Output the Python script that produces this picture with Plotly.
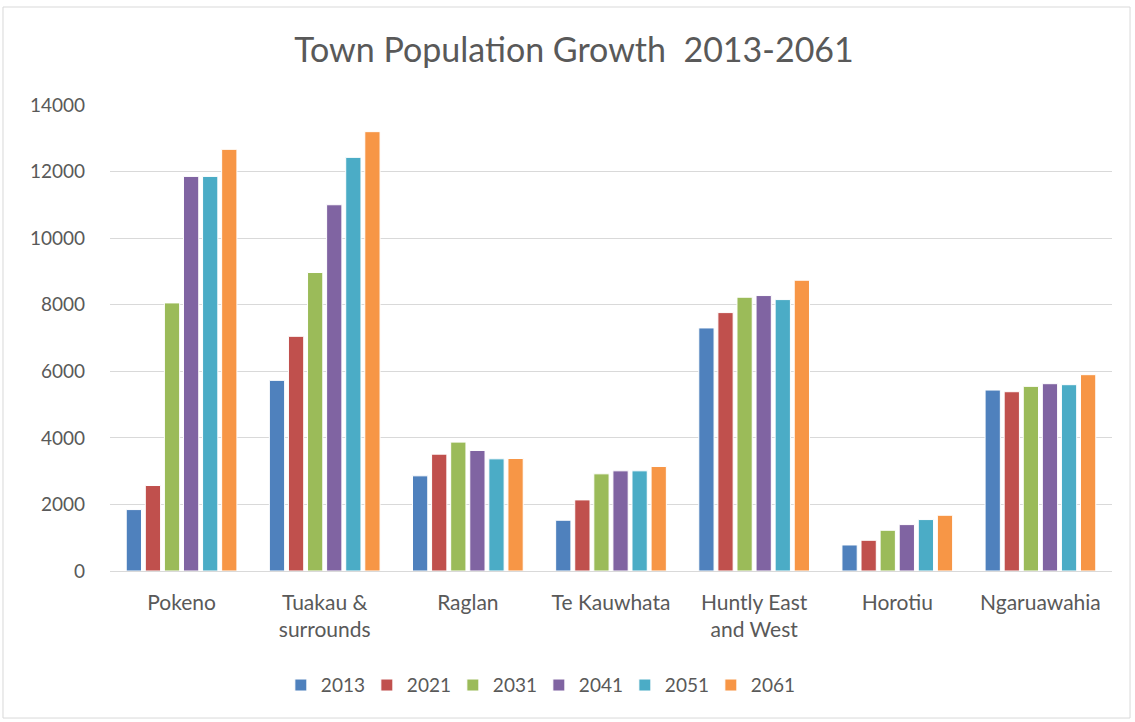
import plotly.graph_objects as go

towns = ["Pokeno", "Tuakau &<br>surrounds", "Raglan", "Te Kauwhata",
         "Huntly East<br>and West", "Horotiu", "Ngaruawahia"]

years = ["2013", "2021", "2031", "2041", "2051", "2061"]

pop_2013 = [1845, 5727, 2859, 1525, 7302, 782, 5436]
pop_2021 = [2568, 7051, 3510, 2136, 7763, 923, 5386]
pop_2031 = [8054, 8967, 3872, 2919, 8225, 1224, 5547]
pop_2041 = [11855, 11003, 3621, 3009, 8275, 1394, 5627]
pop_2051 = [11855, 12427, 3370, 3009, 8154, 1545, 5597]
pop_2061 = [12668, 13199, 3380, 3139, 8736, 1675, 5898]

series = [pop_2013, pop_2021, pop_2031, pop_2041, pop_2051, pop_2061]
colors = ["#4F81BD", "#C0504D", "#9BBB59", "#8064A2", "#4BACC6", "#F79646"]

y_ticks = [0, 2000, 4000, 6000, 8000, 10000, 12000, 14000]
y_tick_text = [str(v) for v in y_ticks]

FONT = "Lato, 'Open Sans', sans-serif"
TXT = "#595959"

fig = go.Figure()
for yr, vals, col in zip(years, series, colors):
    fig.add_trace(go.Bar(
        name=yr, x=towns, y=vals,
        marker=dict(color=col, line=dict(color="white", width=1)),
    ))

# chart area frame
fig.add_shape(type="rect", xref="paper", yref="paper",
              x0=-0.1068, x1=1.018, y0=-0.3155, y1=1.2103,
              line=dict(color="#D9D9D9", width=1), fillcolor="rgba(0,0,0,0)",
              layer="below")

fig.update_layout(
    width=1135, height=722,
    margin=dict(l=110, r=23, t=105, b=151),
    paper_bgcolor="white", plot_bgcolor="white",
    barmode="group", bargap=0.2, bargroupgap=0.2,
    title=dict(text="Town Population Growth  2013-2061",
               x=0.5057, xref="container", xanchor="center",
               y=0.93, yref="container", yanchor="middle",
               font=dict(family=FONT, size=34, color=TXT)),
    font=dict(family=FONT, color=TXT),
    xaxis=dict(showgrid=False, showline=False, ticks="",
               tickfont=dict(size=21, color=TXT), ticklabelstandoff=17),
    yaxis=dict(range=[0, 14000], tickvals=y_ticks, ticktext=y_tick_text,
               showgrid=True, gridcolor="#D9D9D9", gridwidth=1,
               zeroline=True, zerolinecolor="#D9D9D9", zerolinewidth=1,
               ticks="", tickfont=dict(size=19, color=TXT), ticklabelstandoff=24),
    legend=dict(orientation="h", x=0.428, xanchor="center",
                y=-0.245, yanchor="middle",
                font=dict(size=19, color=TXT),
                entrywidth=41, entrywidthmode="pixels",
                itemwidth=30),
    showlegend=True,
)

fig.write_html("out.html")
